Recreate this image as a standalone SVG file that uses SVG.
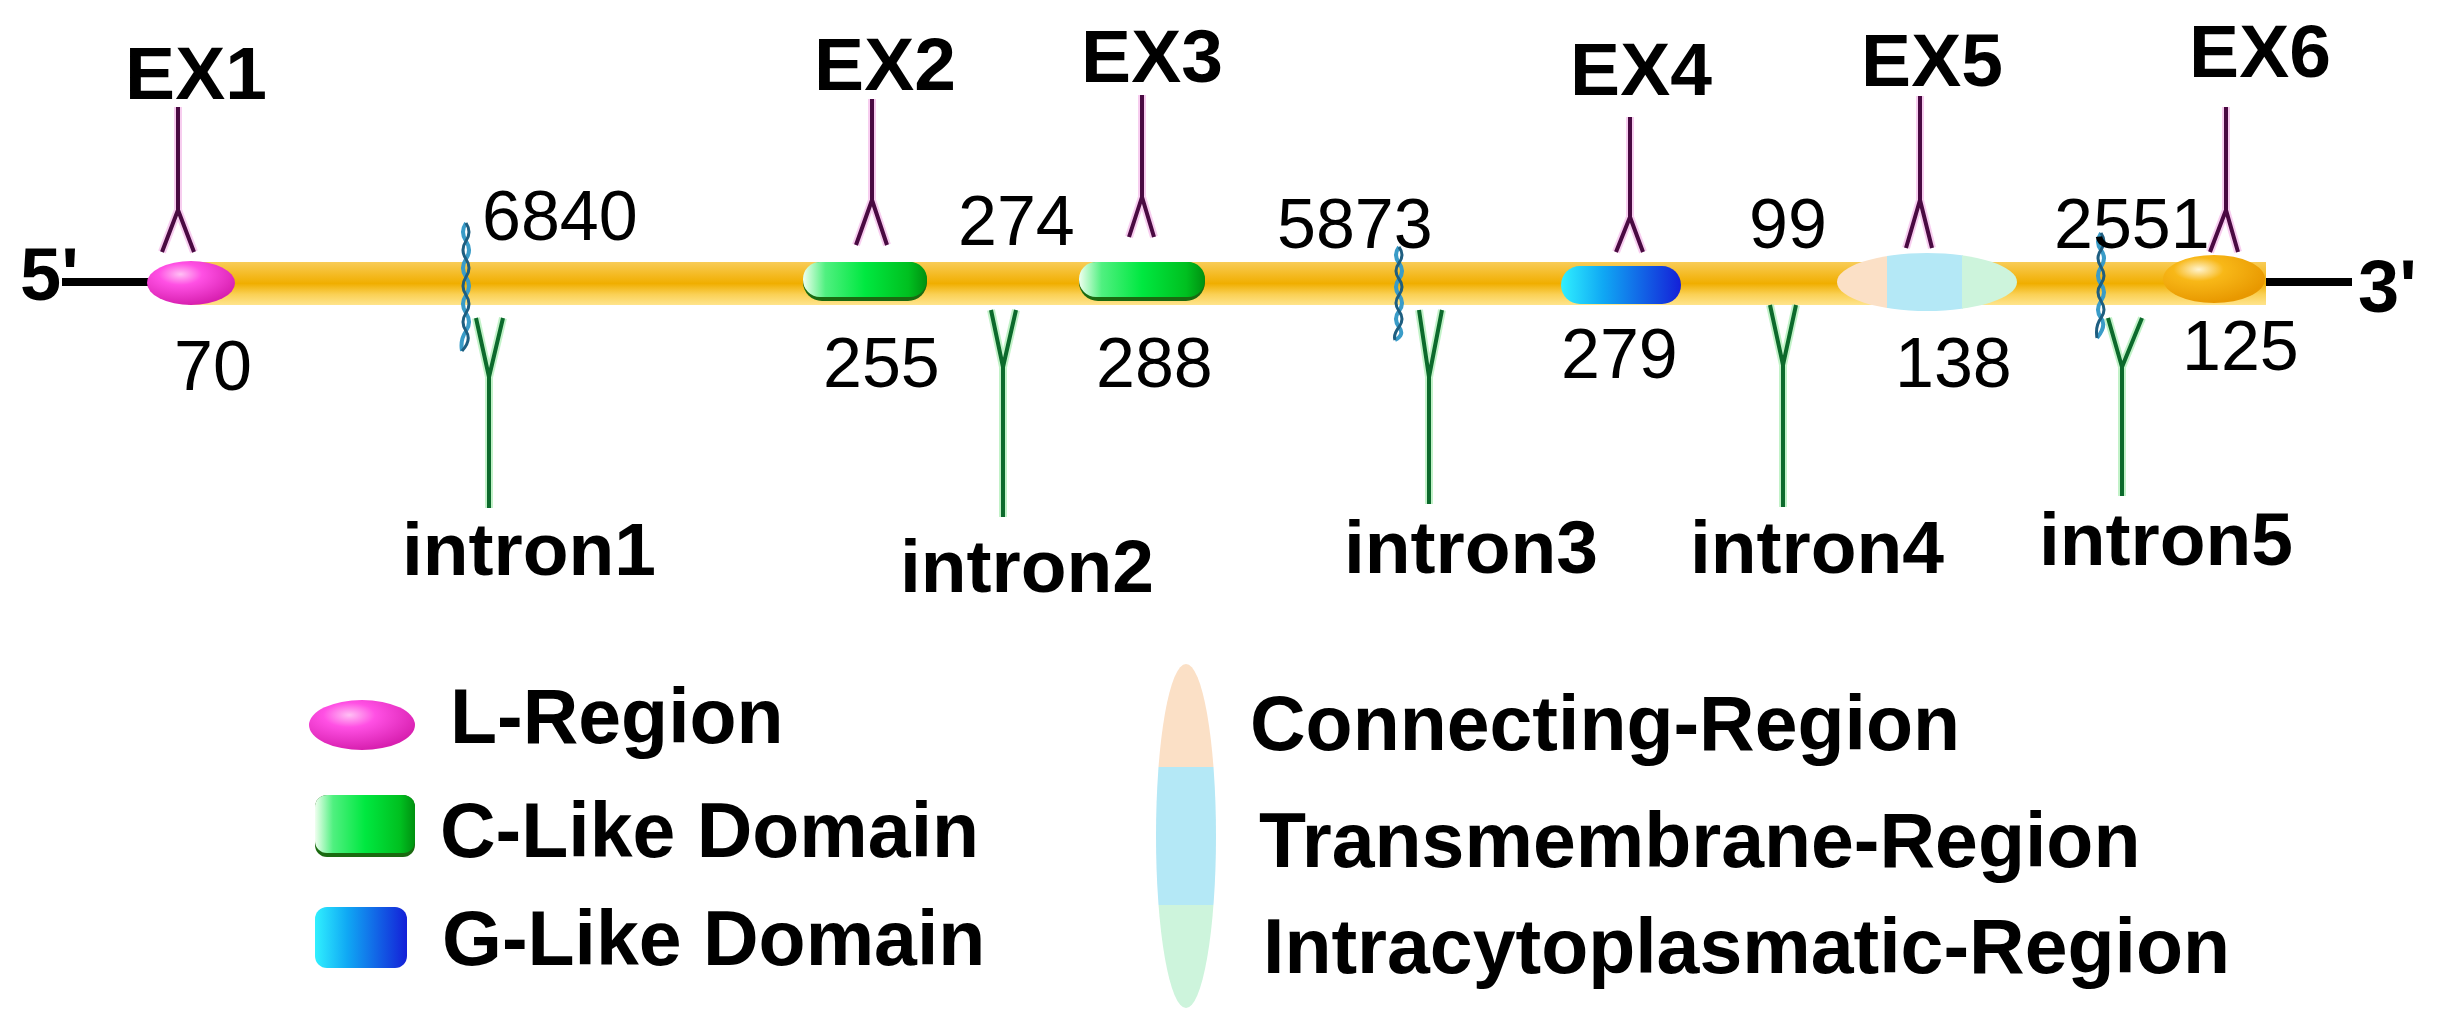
<svg xmlns="http://www.w3.org/2000/svg" width="2448" height="1012" viewBox="0 0 2448 1012">
<defs>
<style>
.lab{font-family:"Liberation Sans",Arial,sans-serif;font-weight:bold;fill:#000}
.ex{font-size:75px;text-anchor:middle}
.num{font-family:"Liberation Sans",Arial,sans-serif;font-size:70px;fill:#000}
.intr{font-size:75px;text-anchor:middle}
.leg{font-size:77px}
.end{font-size:74px}
.exl{fill:none;stroke:#4a0a42;stroke-width:4;stroke-linejoin:round}
.exg{fill:none;stroke:#f4b8e8;stroke-width:8;stroke-linejoin:round;opacity:0.7}
.inl{fill:none;stroke:#0c6a2c;stroke-width:4;stroke-linejoin:round}
.ing{fill:none;stroke:#a8ecb0;stroke-width:8;stroke-linejoin:round;opacity:0.7}
.sq1{fill:none;stroke:#3a9cc8;stroke-width:4}
.sq2{fill:none;stroke:#1e5e80;stroke-width:3}
.blk{stroke:#000;stroke-width:8}
</style>
<linearGradient id="gBar" x1="0" y1="0" x2="0" y2="1">
<stop offset="0" stop-color="#f8cc58"/>
<stop offset="0.3" stop-color="#f4ba22"/>
<stop offset="0.5" stop-color="#f0ae00"/>
<stop offset="0.75" stop-color="#fad054"/>
<stop offset="1" stop-color="#ffe48c"/>
</linearGradient>
<radialGradient id="gPink" cx="0.38" cy="0.3" r="0.7">
<stop offset="0" stop-color="#ffc0f4"/>
<stop offset="0.35" stop-color="#ff50e4"/>
<stop offset="1" stop-color="#d820b0"/>
</radialGradient>
<linearGradient id="gGreen" x1="0" y1="0" x2="1" y2="0">
<stop offset="0" stop-color="#f0fff0"/>
<stop offset="0.18" stop-color="#50f080"/>
<stop offset="0.5" stop-color="#00e840"/>
<stop offset="0.85" stop-color="#00c020"/>
<stop offset="1" stop-color="#009010"/>
</linearGradient>
<linearGradient id="gBlue" x1="0" y1="0" x2="1" y2="0">
<stop offset="0" stop-color="#30f0ff"/>
<stop offset="0.35" stop-color="#10a8f4"/>
<stop offset="1" stop-color="#1420d8"/>
</linearGradient>
<radialGradient id="gOrange" cx="0.35" cy="0.3" r="0.7">
<stop offset="0" stop-color="#fff4d0"/>
<stop offset="0.35" stop-color="#f8b818"/>
<stop offset="1" stop-color="#e89800"/>
</radialGradient>
<clipPath id="cTM"><ellipse cx="1927" cy="282" rx="90" ry="29"/></clipPath>
<clipPath id="cTML"><ellipse cx="1186" cy="836" rx="30" ry="172"/></clipPath>
</defs>
<rect width="2448" height="1012" fill="#fff"/>

<g id="connectors">
<line class="blk" x1="62" y1="282" x2="152" y2="282"/>
<line class="blk" x1="2262" y1="282" x2="2352" y2="282"/>
<rect id="gene-bar" x="188" y="262" width="2078" height="43" fill="url(#gBar)"/>
<!-- exon markers -->
<path class="exg" d="M178 107V210M162 252L178 210L194 252"/>
<path class="exl" d="M178 107V210M162 252L178 210L194 252"/>
<path class="exg" d="M872 99V200M856 245L872 200L887 245"/>
<path class="exl" d="M872 99V200M856 245L872 200L887 245"/>
<path class="exg" d="M1142 95V197M1129 237L1142 197L1154 237"/>
<path class="exl" d="M1142 95V197M1129 237L1142 197L1154 237"/>
<path class="exg" d="M1630 117V217M1616 252L1630 217L1643 252"/>
<path class="exl" d="M1630 117V217M1616 252L1630 217L1643 252"/>
<path class="exg" d="M1920 96V200M1906 248L1920 200L1932 248"/>
<path class="exl" d="M1920 96V200M1906 248L1920 200L1932 248"/>
<path class="exg" d="M2226 107V210M2210 252L2226 210L2238 252"/>
<path class="exl" d="M2226 107V210M2210 252L2226 210L2238 252"/>
<!-- intron markers -->
<path class="ing" d="M476 318L489 377L503 318M489 377V508"/>
<path class="inl" d="M476 318L489 377L503 318M489 377V508"/>
<path class="ing" d="M991 310L1003 367L1016 310M1003 367V517"/>
<path class="inl" d="M991 310L1003 367L1016 310M1003 367V517"/>
<path class="ing" d="M1419 310L1429 377L1442 310M1429 377V504"/>
<path class="inl" d="M1419 310L1429 377L1442 310M1429 377V504"/>
<path class="ing" d="M1770 305L1783 365L1796 305M1783 365V507"/>
<path class="inl" d="M1770 305L1783 365L1796 305M1783 365V507"/>
<path class="ing" d="M2108 318L2122 367L2142 318M2122 367V496"/>
<path class="inl" d="M2108 318L2122 367L2142 318M2122 367V496"/>
<!-- break squiggles -->
<g id="break1">
<path class="sq1" d="M466 223q-6 9 0 18t0 18t0 18t0 18t0 18t0 18t-4 20"/>
<path class="sq2" d="M466 223q6 9 0 18t0 18t0 18t0 18t0 18t0 18t-4 20"/>
</g>
<g id="break2">
<path class="sq1" d="M1399 247q-6 8 0 16t0 16t0 16t0 16t0 16t-4 13"/>
<path class="sq2" d="M1399 247q6 8 0 16t0 16t0 16t0 16t0 16t-4 13"/>
</g>
<g id="break3">
<path class="sq1" d="M2101 233q-6 9 0 17t0 17t0 17t0 17t0 17t-4 20"/>
<path class="sq2" d="M2101 233q6 9 0 17t0 17t0 17t0 17t0 17t-4 20"/>
</g>
</g>

<g id="end5"><text class="lab end" x="20" y="300">5'</text></g>
<g id="end3"><text class="lab end" x="2358" y="312">3'</text></g>

<g id="ex1">
<ellipse cx="191" cy="283" rx="44" ry="22" fill="url(#gPink)"/>
<text class="lab ex" x="196" y="99">EX1</text>
<text class="num" x="174" y="390">70</text>
</g>
<g id="ex2">
<rect x="803" y="262" width="124" height="39" rx="19" fill="#1a6a10"/>
<rect x="803" y="262" width="124" height="35" rx="17" fill="url(#gGreen)"/>
<text class="lab ex" x="885" y="90">EX2</text>
<text class="num" x="823" y="387">255</text>
</g>
<g id="ex3">
<rect x="1079" y="262" width="126" height="39" rx="19" fill="#1a6a10"/>
<rect x="1079" y="262" width="126" height="35" rx="17" fill="url(#gGreen)"/>
<text class="lab ex" x="1152" y="82">EX3</text>
<text class="num" x="1096" y="387">288</text>
</g>
<g id="ex4">
<rect x="1561" y="266" width="120" height="38" rx="19" fill="url(#gBlue)"/>
<text class="lab ex" x="1641" y="95">EX4</text>
<text class="num" x="1561" y="378">279</text>
</g>
<g id="ex5">
<g clip-path="url(#cTM)">
<rect x="1836" y="250" width="52" height="66" fill="#fbe0c6"/>
<rect x="1887" y="250" width="76" height="66" fill="#b4e8f6"/>
<rect x="1962" y="250" width="58" height="66" fill="#cdf4dc"/>
</g>
<text class="lab ex" x="1932" y="86">EX5</text>
<text class="num" x="1895" y="387">138</text>
</g>
<g id="ex6">
<ellipse cx="2214" cy="279" rx="51" ry="24" fill="url(#gOrange)"/>
<text class="lab ex" x="2260" y="77">EX6</text>
<text class="num" x="2182" y="370">125</text>
</g>

<g id="intron1">
<text class="num" x="482" y="240">6840</text>
<text class="lab intr" x="529" y="575">intron1</text>
</g>
<g id="intron2">
<text class="num" x="958" y="245">274</text>
<text class="lab intr" x="1027" y="592">intron2</text>
</g>
<g id="intron3">
<text class="num" x="1277" y="248">5873</text>
<text class="lab intr" x="1471" y="573">intron3</text>
</g>
<g id="intron4">
<text class="num" x="1749" y="248">99</text>
<text class="lab intr" x="1817" y="573">intron4</text>
</g>
<g id="intron5">
<text class="num" x="2054" y="248">2551</text>
<text class="lab intr" x="2166" y="565">intron5</text>
</g>

<g id="legend-l">
<ellipse cx="362" cy="725" rx="53" ry="25" fill="url(#gPink)"/>
<text class="lab leg" x="450" y="743">L-Region</text>
</g>
<g id="legend-c">
<rect x="315" y="795" width="100" height="62" rx="12" fill="#1a6a10"/>
<rect x="315" y="795" width="100" height="58" rx="12" fill="url(#gGreen)"/>
<text class="lab leg" x="440" y="857">C-Like Domain</text>
</g>
<g id="legend-g">
<rect x="315" y="907" width="92" height="61" rx="12" fill="url(#gBlue)"/>
<text class="lab leg" x="442" y="965">G-Like Domain</text>
</g>
<g id="legend-tm">
<g clip-path="url(#cTML)">
<rect x="1150" y="660" width="80" height="107" fill="#fbe0c6"/>
<rect x="1150" y="767" width="80" height="138" fill="#b4e8f6"/>
<rect x="1150" y="905" width="80" height="106" fill="#cdf4dc"/>
</g>
<text class="lab leg" x="1250" y="750">Connecting-Region</text>
<text class="lab leg" x="1259" y="867">Transmembrane-Region</text>
<text class="lab leg" x="1263" y="973">Intracytoplasmatic-Region</text>
</g>
</svg>
